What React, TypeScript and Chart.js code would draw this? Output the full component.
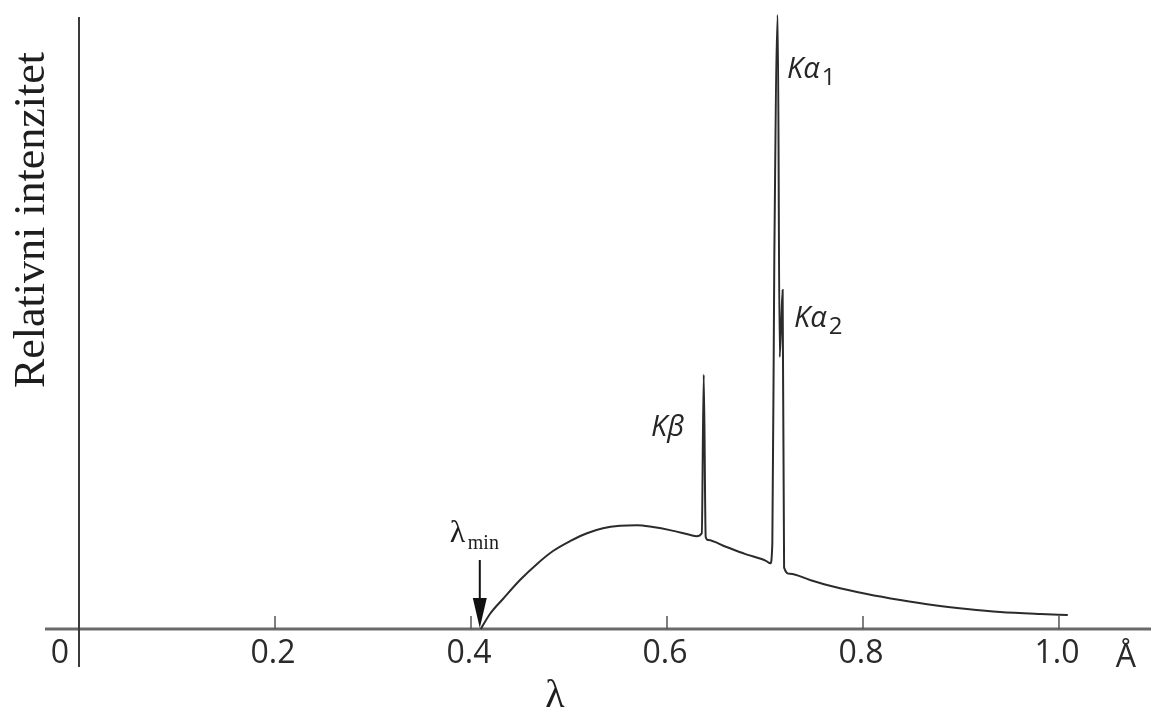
import { useEffect, useRef } from 'react';
import { Chart, registerables } from 'chart.js';

Chart.register(...registerables);

// Wavelength (Å) and relative intensity (Kα1 = 100)
const wavelengths = [
  0.410, 0.4193, 0.4326, 0.450, 0.4674, 0.4837, 0.501, 0.5184, 0.5347, 0.552, 0.5694,
  0.5857, 0.603, 0.624, 0.630, 0.6355, 0.6375, 0.6395, 0.642, 0.660, 0.680,
  0.701, 0.7055, 0.7075, 0.7095, 0.7130, 0.7150, 0.7180, 0.7195,
  0.7255, 0.746, 0.7694, 0.804, 0.838, 0.871, 0.906, 0.940, 0.981, 1.009,
];
const intensities = [
  0, 2.44, 4.89, 7.98, 10.6, 12.7, 14.3, 15.6, 16.4, 16.8, 16.9,
  16.6, 16.1, 15.3, 15.1, 15.6, 41.4, 15.0, 14.5, 13.4, 12.2,
  11.1, 10.7, 14.0, 60.0, 100, 44.3, 55.2, 10.0,
  9.0, 7.98, 6.92, 5.70, 4.72, 3.91, 3.26, 2.77, 2.44, 2.28,
];
const xTickValues = [0, 0.2, 0.4, 0.6, 0.8, 1.0];
const xTickLabels = ['0', '0.2', '0.4', '0.6', '0.8', '1.0'];
const unitLabel = 'Å';
const xTitle = 'λ';
const yTitle = 'Relativni intenzitet';
const peakNames = ['β', 'α', 'α'];
const peakSubs = ['', '1', '2'];
const peakLabelX = [0.5837, 0.7225, 0.7296];
const peakLabelY = [31.4, 89.7, 49.2];

const decor = {
  id: 'decor',
  beforeDatasetsDraw(chart: any) {
    const { ctx, chartArea, scales } = chart;
    const x = scales.x;
    const y = scales.y;
    const y0 = y.getPixelForValue(0);
    const x0 = x.getPixelForValue(0);
    ctx.save();
    // horizontal axis
    ctx.strokeStyle = '#6a6a6a';
    ctx.lineWidth = 3;
    ctx.beginPath();
    ctx.moveTo(chartArea.left, y0);
    ctx.lineTo(chartArea.right, y0);
    ctx.stroke();
    // vertical axis
    ctx.strokeStyle = '#3a3a3a';
    ctx.lineWidth = 2;
    ctx.beginPath();
    ctx.moveTo(x0, chartArea.top + 2);
    ctx.lineTo(x0, y0 + 38);
    ctx.stroke();
    // inward tick marks
    ctx.strokeStyle = '#555';
    ctx.lineWidth = 1.5;
    xTickValues.forEach((v) => {
      if (v === 0) return;
      const px = x.getPixelForValue(v);
      ctx.beginPath();
      ctx.moveTo(px, y0);
      ctx.lineTo(px, y0 - 13);
      ctx.stroke();
    });
    ctx.restore();
  },
  afterDatasetsDraw(chart: any) {
    const { ctx, scales } = chart;
    const x = scales.x;
    const y = scales.y;
    const y0 = y.getPixelForValue(0);
    const x0 = x.getPixelForValue(0);
    ctx.save();
    ctx.fillStyle = '#2a2a2a';
    // tick labels
    ctx.font = '32px "Open Sans", "Noto Sans", sans-serif';
    ctx.textAlign = 'center';
    ctx.textBaseline = 'alphabetic';
    xTickValues.forEach((v, i) => {
      const px = v === 0 ? x0 - 19 : x.getPixelForValue(v) - 2;
      ctx.fillText(xTickLabels[i], px, y0 + 34);
    });
    ctx.fillText(unitLabel, x.getPixelForValue(1.0) + 67, y0 + 38);

    // x title
    ctx.font = '40px "Liberation Serif", "Times New Roman", serif';
    ctx.fillStyle = '#1e1e1e';
    ctx.fillText(xTitle, (x.getPixelForValue(0.4) + x.getPixelForValue(0.6)) / 2 - 14, y0 + 78);

    // y title
    ctx.save();
    ctx.translate(44, (chart.chartArea.top + 393 + 32) / 2);
    ctx.rotate(-Math.PI / 2);
    ctx.font = '44px "Liberation Serif", "Times New Roman", serif';
    ctx.textAlign = 'center';
    ctx.fillText(yTitle, 0, 0);
    ctx.restore();

    // lambda min label and arrow
    const ax = x.getPixelForValue(wavelengths[0]) - 1;
    ctx.textAlign = 'left';
    ctx.font = '32px "Liberation Serif", "Times New Roman", serif';
    ctx.fillText('λ', ax - 30, y0 - 87);
    ctx.font = '20px "Liberation Serif", "Times New Roman", serif';
    ctx.fillText('min', ax - 12, y0 - 80);
    ctx.strokeStyle = '#111';
    ctx.lineWidth = 2;
    ctx.beginPath();
    ctx.moveTo(ax, y0 - 69);
    ctx.lineTo(ax, y0 - 28);
    ctx.stroke();
    ctx.fillStyle = '#111';
    ctx.beginPath();
    ctx.moveTo(ax - 7, y0 - 31);
    ctx.lineTo(ax + 7, y0 - 31);
    ctx.lineTo(ax, y0 - 1);
    ctx.closePath();
    ctx.fill();

    // peak labels
    ctx.fillStyle = '#262626';
    peakNames.forEach((g, i) => {
      const px = x.getPixelForValue(peakLabelX[i]);
      const py = y.getPixelForValue(peakLabelY[i]);
      ctx.font = 'italic 29px "Open Sans", "Noto Sans", sans-serif';
      ctx.fillText('K' + g, px, py);
      const w = ctx.measureText('K' + g).width;
      if (peakSubs[i]) {
        ctx.font = '24px "Open Sans", "Noto Sans", sans-serif';
        ctx.fillText(peakSubs[i], px + w + 2, py + 7);
      }
    });
    ctx.restore();
  },
};

export default function App() {
  const ref = useRef<HTMLCanvasElement | null>(null);
  useEffect(() => {
    if (!ref.current) return;
    const chart = new Chart(ref.current, {
      type: 'line',
      data: {
        datasets: [
          {
            data: wavelengths.map((w, i) => ({ x: w, y: intensities[i] })),
            borderColor: '#2b2b2b',
            borderWidth: 2,
            pointRadius: 0,
            cubicInterpolationMode: 'monotone',
            fill: false,
            clip: false as any,
          },
        ],
      },
      options: {
        animation: false,
        responsive: false,
        layout: { padding: { left: 45, right: 0, top: 15, bottom: 82 } },
        plugins: { legend: { display: false }, tooltip: { enabled: false } },
        scales: {
          x: { type: 'linear', min: -0.0347, max: 1.0939, display: false },
          y: { type: 'linear', min: 0, max: 100, display: false },
        },
      },
      plugins: [decor],
    });
    return () => chart.destroy();
  }, []);
  return (
    <div style={{ position: 'fixed', left: 0, top: 0, width: 1151, height: 711, background: '#fff' }}>
      <canvas ref={ref} width={1151} height={711} />
    </div>
  );
}
